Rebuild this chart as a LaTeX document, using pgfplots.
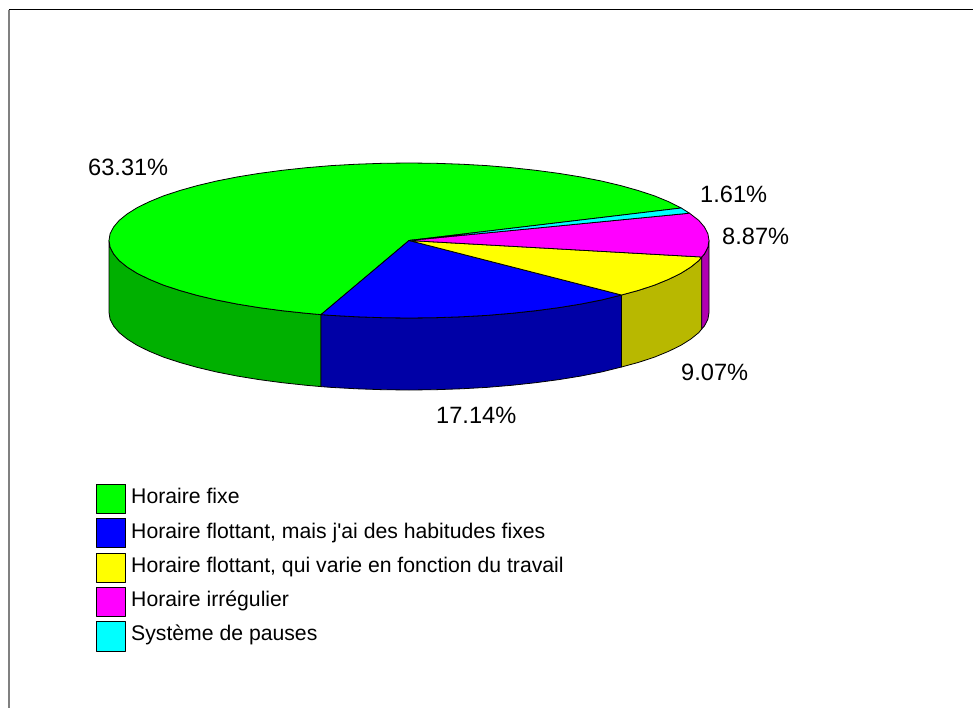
\documentclass[border=0pt]{standalone}
\usepackage{pgfplots}
\pgfplotsset{compat=1.18}
\usepackage{fontspec}
\newfontfamily\arial{Liberation Sans}
\definecolor{cgreen}{RGB}{0,255,0}
\definecolor{cgreend}{RGB}{0,176,0}
\definecolor{cblue}{RGB}{0,0,255}
\definecolor{cblued}{RGB}{0,0,166}
\definecolor{cyellow}{RGB}{255,255,0}
\definecolor{cyellowd}{RGB}{184,184,0}
\definecolor{cmag}{RGB}{255,0,255}
\definecolor{cmagd}{RGB}{176,0,176}
\definecolor{ccyan}{RGB}{0,255,255}
\newcommand{\pct}[1]{\fontsize{23.6bp}{26bp}\arial\selectfont #1}
\newcommand{\leg}[1]{\fontsize{21.2bp}{24bp}\arial\selectfont #1}
\tikzset{
  pie/.style={draw=black, line width=0.8bp, line join=round},
  txt/.style={anchor=base west, inner sep=0pt, text=black},
}
\begin{document}
\begin{tikzpicture}
\begin{axis}[
  scale only axis,
  width=973bp, height=708bp,
  xmin=0, xmax=973, ymin=0, ymax=708,
  y dir=reverse,
  hide axis,
  clip=true,
]
% hide axis drops the axis box from the page size, so keep it here
\path (axis cs:0,0) rectangle (axis cs:973,708);

% frame
\addplot[draw=black!50, line width=2bp, forget plot] coordinates {(9,10) (9,708)};
\addplot[draw=black, line width=1bp, forget plot] coordinates {(8.5,10) (973,10)};

% side walls
\addplot[pie, fill=cgreend] coordinates {
  (109,240.5) (110.1,247.25) (113.6,254) (119.2,260.6) (127.1,267) (137.1,273.3)
  (149.2,279.25) (163.2,285) (179.2,290.3) (196.9,295.3) (216.2,299.9) (236.9,304)
  (259,307.6) (282.2,310.7) (306.4,313.3) (321,314.6)
  (321,386.6) (306.4,385.3) (282.2,382.7) (259,379.6) (236.9,376) (216.2,371.9)
  (196.9,367.3) (179.2,362.3) (163.2,357) (149.2,351.25) (137.1,345.3) (127.1,339)
  (119.2,332.6) (113.6,326) (110.1,319.25) (109,312.5)} -- cycle;
\addplot[pie, fill=cblued] coordinates {
  (321,314.6) (331.4,315.4) (356.9,316.8) (382.8,317.7) (409,318) (435.2,317.7)
  (461.1,316.8) (486.6,315.4) (511.6,313.3) (535.8,310.7) (559,307.6) (581.1,304)
  (601.8,299.9) (621.5,295)
  (621.5,367) (601.8,371.9) (581.1,376) (559,379.6) (535.8,382.7) (511.6,385.3)
  (486.6,387.4) (461.1,388.8) (435.2,389.7) (409,390) (382.8,389.7) (356.9,388.8)
  (331.4,387.4) (321,386.6)} -- cycle;
\addplot[pie, fill=cyellowd] coordinates {
  (621.5,295) (638.8,290.3) (654.8,285) (668.8,279.25) (680.9,273.3) (690.9,267)
  (698.8,260.6) (701.7,257)
  (701.7,329) (698.8,332.6) (690.9,339) (680.9,345.3) (668.8,351.25) (654.8,357)
  (638.8,362.3) (621.5,367)} -- cycle;
\addplot[pie, fill=cmagd] coordinates {
  (701.7,257) (704.4,254) (707.9,247.25) (709,240.5)
  (709,312.5) (707.9,319.25) (704.4,326) (701.7,329)} -- cycle;

% top slices
\addplot[pie, fill=cgreen] coordinates {
  (409,240.5) (681.2,208) (668.8,201.75) (654.8,196) (638.8,190.7) (621.1,185.7)
  (601.8,181.1) (581.1,177) (559,173.4) (535.8,170.3) (511.6,167.7) (486.6,165.6)
  (461.1,164.2) (435.2,163.3) (409,163) (382.8,163.3) (356.9,164.2) (331.4,165.6)
  (306.4,167.7) (282.2,170.3) (259,173.4) (236.9,177) (216.2,181.1) (196.9,185.7)
  (179.2,190.7) (163.2,196) (149.2,201.75) (137.1,207.7) (127.1,214) (119.2,220.4)
  (113.6,227) (110.1,233.75) (109,240.5) (110.1,247.25) (113.6,254) (119.2,260.6)
  (127.1,267) (137.1,273.3) (149.2,279.25) (163.2,285) (179.2,290.3) (196.9,295.3)
  (216.2,299.9) (236.9,304) (259,307.6) (282.2,310.7) (306.4,313.3) (321,314.6)} -- cycle;
\addplot[pie, fill=cblue] coordinates {
  (409,240.5) (321,314.6) (331.4,315.4) (356.9,316.8) (382.8,317.7) (409,318)
  (435.2,317.7) (461.1,316.8) (486.6,315.4) (511.6,313.3) (535.8,310.7) (559,307.6)
  (581.1,304) (601.8,299.9) (621.5,295)} -- cycle;
\addplot[pie, fill=cyellow] coordinates {
  (409,240.5) (621.5,295) (638.8,290.3) (654.8,285) (668.8,279.25) (680.9,273.3)
  (690.9,267) (698.8,260.6) (701.7,257)} -- cycle;
\addplot[pie, fill=cmag] coordinates {
  (409,240.5) (701.7,257) (704.4,254) (707.9,247.25) (709,240.5) (707.9,233.75)
  (704.4,227) (698.8,220.4) (689.5,213.2)} -- cycle;
\addplot[pie, fill=ccyan] coordinates {
  (409,240.5) (689.5,213.2) (681.2,208)} -- cycle;

% legend swatches
\addplot[pie, fill=cgreen] coordinates {(96.5,484) (125.5,484) (125.5,513.5) (96.5,513.5)} -- cycle;
\addplot[pie, fill=cblue] coordinates {(96.5,518) (125.5,518) (125.5,547.5) (96.5,547.5)} -- cycle;
\addplot[pie, fill=cyellow] coordinates {(96.5,553) (125.5,553) (125.5,582) (96.5,582)} -- cycle;
\addplot[pie, fill=cmag] coordinates {(96.5,587) (125.5,587) (125.5,616) (96.5,616)} -- cycle;
\addplot[pie, fill=ccyan] coordinates {(96.5,621.5) (125.5,621.5) (125.5,651) (96.5,651)} -- cycle;

% percentage labels
\node[txt] at (axis cs:88,176) {\pct{63.31\%}};
\node[txt] at (axis cs:700,202.5) {\pct{1.61\%}};
\node[txt] at (axis cs:722,244) {\pct{8.87\%}};
\node[txt] at (axis cs:681,380) {\pct{9.07\%}};
\node[txt] at (axis cs:436,423) {\pct{17.14\%}};

% legend text
\node[txt] at (axis cs:131,503.7) {\leg{Horaire fixe}};
\node[txt] at (axis cs:131,538) {\leg{Horaire flottant, mais j'ai des habitudes fixes}};
\node[txt] at (axis cs:131,572.3) {\leg{Horaire flottant, qui varie en fonction du travail}};
\node[txt] at (axis cs:131,606.7) {\leg{Horaire irrégulier}};
\node[txt] at (axis cs:131,640.7) {\leg{Système de pauses}};
\end{axis}
\end{tikzpicture}
\end{document}
